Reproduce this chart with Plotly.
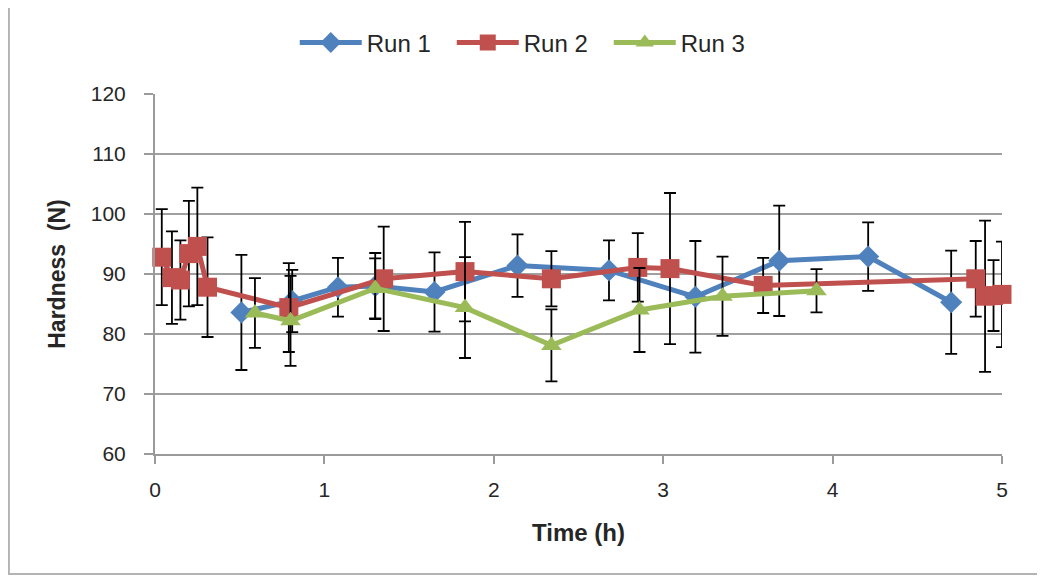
import plotly.graph_objects as go

# ---- data ----
run1_x = [0.51, 0.81, 1.08, 1.30, 1.65, 2.14, 2.68, 3.19, 3.685, 4.21, 4.70]
run1_y = [83.6, 85.5, 87.8, 88.0, 87.0, 91.4, 90.6, 86.2, 92.2, 92.9, 85.3]
run1_e = [9.6, 5.2, 4.9, 5.5, 6.6, 5.2, 5.0, 9.3, 9.2, 5.7, 8.6]

run2_x = [0.04, 0.10, 0.15, 0.20, 0.25, 0.31, 0.79, 1.35, 1.83, 2.34, 2.85, 3.04,
          3.59, 4.845, 4.90, 4.95, 5.0, 5.05]
run2_y = [92.8, 89.4, 89.0, 93.4, 94.6, 87.8, 84.4, 89.2, 90.4, 89.2, 91.1, 90.9,
          88.1, 89.2, 86.3, 86.4, 86.6, 86.2]
run2_e = [8.0, 7.7, 6.6, 8.8, 9.8, 8.3, 7.4, 8.7, 8.3, 4.6, 5.7, 12.6,
          4.6, 6.3, 12.6, 5.9, 8.8, 7.1]

run3_x = [0.59, 0.80, 1.30, 1.83, 2.34, 2.86, 3.35, 3.905]
run3_y = [83.5, 82.2, 87.6, 84.4, 78.1, 84.0, 86.3, 87.2]
run3_e = [5.8, 7.5, 5.0, 8.4, 6.0, 7.0, 6.6, 3.6]

x_ticks = [0, 1, 2, 3, 4, 5]
y_ticks = [60, 70, 80, 90, 100, 110, 120]

FONT = "Liberation Sans"
TXT = "#262626"

fig = go.Figure()

def add(name, xs, ys, es, color, symbol, size):
    fig.add_trace(go.Scatter(
        x=xs, y=ys, name=name, mode="lines+markers",
        line=dict(color=color, width=5),
        marker=dict(color=color, symbol=symbol, size=size),
        error_y=dict(type="data", array=es, visible=True, color="black",
                     thickness=1.8, width=6),
        cliponaxis=False,
    ))

add("Run 1", run1_x, run1_y, run1_e, "#4F81BD", "diamond", 17)
add("Run 2", run2_x, run2_y, run2_e, "#C0504D", "square", 19)
add("Run 3", run3_x, run3_y, run3_e, "#9BBB59", "triangle-up", 18)

# chart-area border
fig.add_shape(type="rect", xref="paper", yref="paper",
              x0=-0.1725, x1=1.0437, y0=-0.3333, y1=1.2556,
              line=dict(color="#b3b3b3", width=2), layer="below")

fig.update_layout(
    width=1037, height=571,
    margin=dict(l=147, r=43, t=86, b=125),
    paper_bgcolor="white", plot_bgcolor="white",
    font=dict(family=FONT, size=21, color=TXT),
    showlegend=True,
    legend=dict(orientation="h", x=0.165, xanchor="left",
                y=1.142, yanchor="middle",
                font=dict(family=FONT, size=24, color=TXT),
                entrywidth=80, entrywidthmode="pixels",
                itemwidth=62, tracegroupgap=0),
    xaxis=dict(range=[0, 5], tickvals=x_ticks, ticktext=[str(v) for v in x_ticks],
               showgrid=False, zeroline=False,
               showline=True, linecolor="#9a9a9a", linewidth=2,
               ticks="outside", ticklen=8, tickcolor="#9a9a9a", tickwidth=2,
               ticklabelstandoff=8,
               tickfont=dict(family=FONT, size=21, color=TXT),
               title=dict(text="<b>Time (h)</b>", font=dict(family=FONT, size=24, color=TXT),
                          standoff=24)),
    yaxis=dict(range=[60, 120], tickvals=y_ticks, ticktext=[str(v) for v in y_ticks],
               showgrid=True, gridcolor="#a0a0a0", gridwidth=1.8,
               zeroline=False,
               showline=True, linecolor="#9a9a9a", linewidth=2,
               ticks="outside", ticklen=9, tickcolor="#9a9a9a", tickwidth=2,
               ticklabelstandoff=14,
               tickfont=dict(family=FONT, size=21, color=TXT),
               title=dict(text="<b>Hardness  (N)</b>", font=dict(family=FONT, size=23, color=TXT),
                          standoff=19)),
)

fig.write_html("out.html")
